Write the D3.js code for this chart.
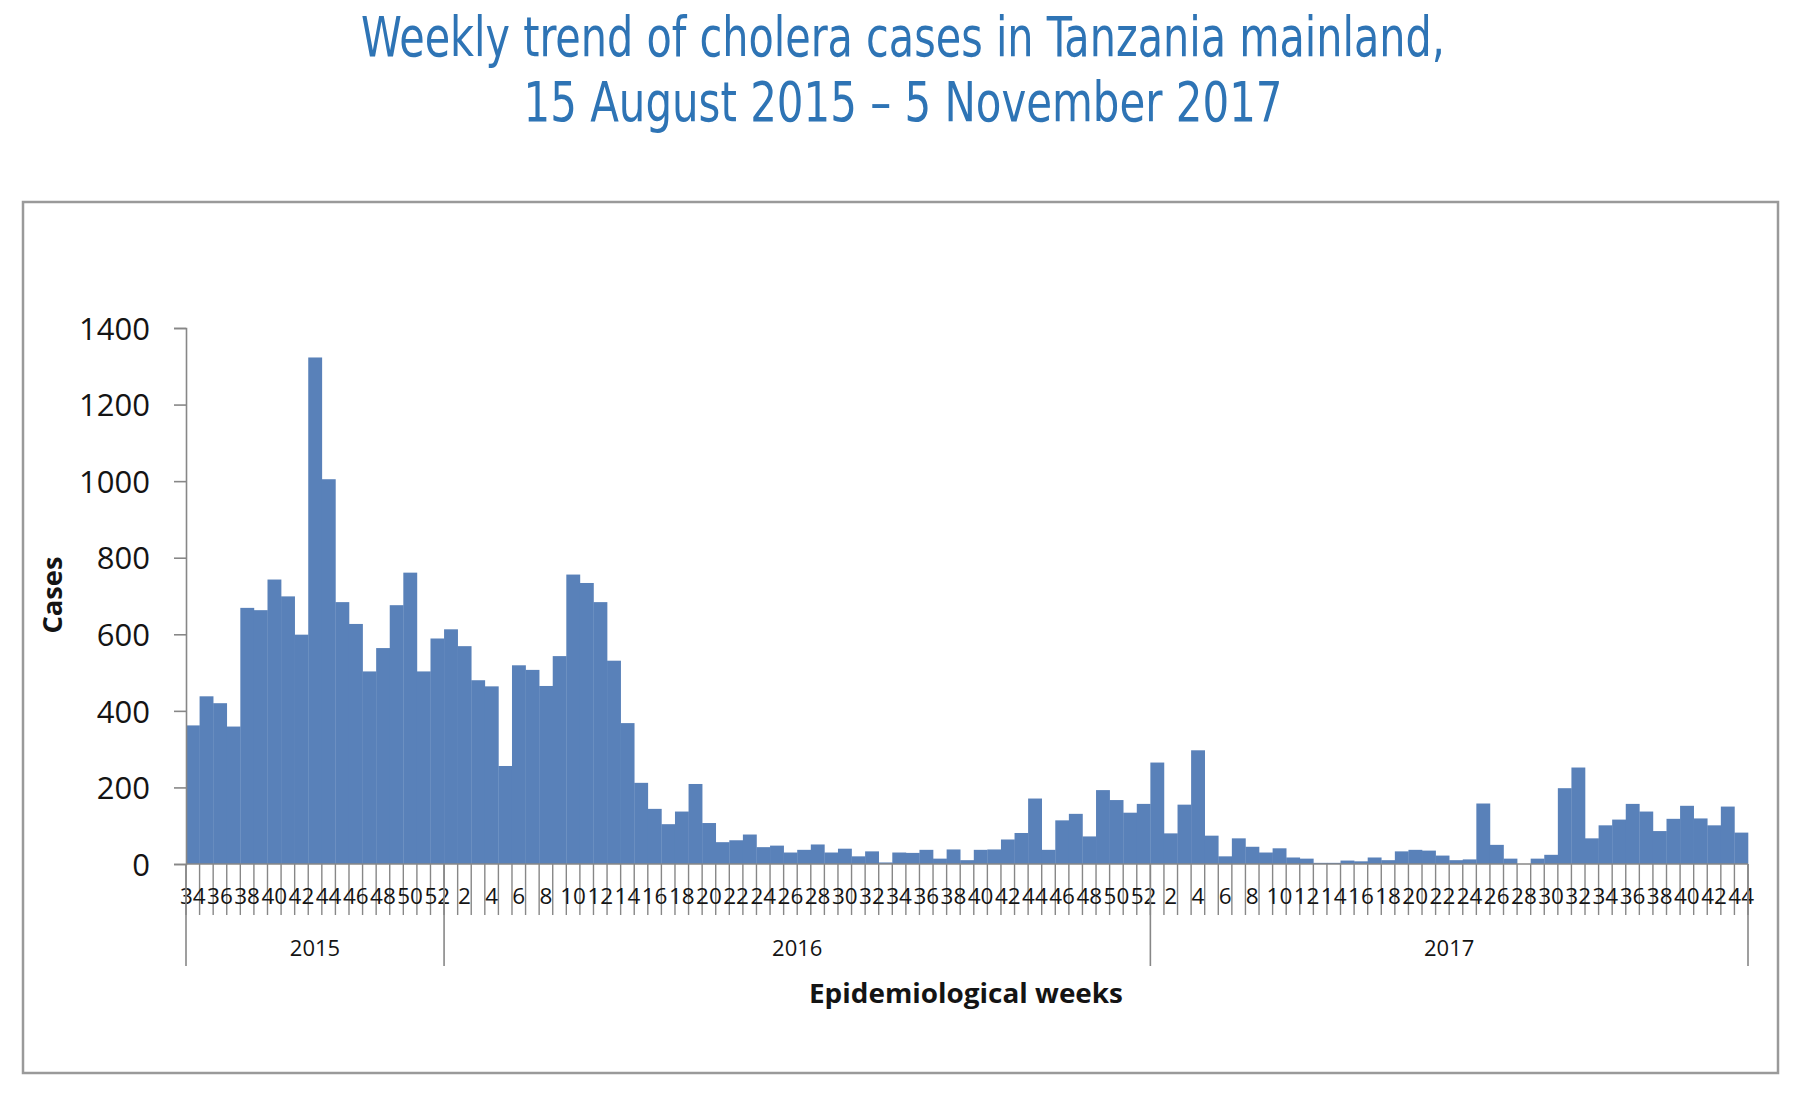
<!DOCTYPE html>
<html>
<head>
<meta charset="utf-8">
<script src="https://cdn.jsdelivr.net/npm/d3@7"></script>
<style>
	body { margin: 0; background: #fff; }
	.mono { font-family: 'Open Sans', 'Liberation Sans', sans-serif; fill: #141414; }
	.title { font-family: 'Liberation Sans Narrow', 'DejaVu Sans Condensed', 'Liberation Sans', sans-serif; fill: #2e74b5; }
</style>
</head>
<body>
<div id="chart"></div>
<script>
var years = ['2015', '2016', '2017'],
	firstWeek = [34, 1, 1],
	cases2015 = [362, 438, 420, 359, 669, 663, 743, 699, 599, 1323, 1005, 684, 627, 503, 564, 676, 761, 503, 589],
	cases2016 = [613, 569, 480, 464, 256, 519, 507, 465, 543, 756, 734, 684, 531, 368, 212, 144, 104, 137, 209, 107,
		57, 62, 77, 44, 48, 30, 37, 51, 30, 40, 20, 33, 4, 30, 29, 37, 14, 38, 10, 37,
		38, 64, 81, 171, 37, 114, 131, 72, 193, 167, 134, 157],
	cases2017 = [265, 80, 155, 297, 74, 20, 67, 45, 30, 41, 17, 14, 3, 3, 9, 7, 17, 10, 33, 37,
		35, 22, 10, 12, 158, 50, 14, 0, 14, 24, 198, 252, 67, 101, 116, 157, 137, 86, 118, 152,
		119, 101, 150, 82],
	yTicks = [0, 200, 400, 600, 800, 1000, 1200, 1400],
	titleLines = ['Weekly trend of cholera cases in Tanzania mainland,', '15 August 2015 \u2013 5 November 2017'],
	yTitle = 'Cases',
	xTitle = 'Epidemiological weeks';

var W = 1806, H = 1096,
	plot = { left: 186, right: 1748, top: 328, bottom: 864 };

// flatten the three years into one category list
var seriesByYear = [cases2015, cases2016, cases2017];
var data = [];
seriesByYear.forEach(function (vals, y) {
	vals.forEach(function (v, i) {
		data.push({ year: years[y], week: firstWeek[y] + i, cases: v });
	});
});

var svg = d3.select('#chart').append('svg')
	.attr('width', W)
	.attr('height', H);

svg.append('rect')
	.attr('width', W).attr('height', H)
	.style('fill', '#fff');

// title
svg.selectAll('.title')
	.data(titleLines)
	.enter().append('text')
	.attr('class', 'title')
	.attr('x', W / 2)
	.attr('y', function (d, i) { return 56 + i * 64.5; })
	.attr('text-anchor', 'middle')
	.style('font-size', '55px')
	.attr('textLength', function (d, i) { return i == 0 ? 1084 : 759; })
	.attr('lengthAdjust', 'spacingAndGlyphs')
	.text(function (d) { return d; });

// chart frame
svg.append('rect')
	.attr('x', 23).attr('y', 202)
	.attr('width', 1755).attr('height', 871)
	.style('fill', 'none')
	.style('stroke', '#9a9a9a')
	.style('stroke-width', 2.5);

var x = d3.scaleBand()
	.domain(d3.range(data.length))
	.range([plot.left, plot.right])
	.padding(0);

var y = d3.scaleLinear()
	.domain([0, 1400])
	.range([plot.bottom, plot.top]);

svg.selectAll('.bar')
	.data(data)
	.enter().append('rect')
	.attr('class', 'bar')
	.attr('x', function (d, i) { return x(i); })
	.attr('y', function (d) { return y(d.cases); })
	.attr('width', x.bandwidth() + 0.3)
	.attr('height', function (d) { return y(0) - y(d.cases); })
	.style('fill', '#5981b9');

// y axis
var yAxis = svg.append('g')
	.attr('transform', 'translate(' + plot.left + ',0)')
	.call(d3.axisLeft(y).tickValues(yTicks).tickSize(12).tickPadding(24).tickFormat(d3.format('d')));
yAxis.selectAll('path, line').style('stroke', '#878787').style('stroke-width', 1.6);
yAxis.selectAll('text')
	.attr('class', 'mono')
	.style('font-size', '31px')
	.attr('dy', '0.36em');

svg.append('text')
	.attr('class', 'mono')
	.attr('transform', 'translate(62,595) rotate(-90)')
	.attr('text-anchor', 'middle')
	.style('font-size', '26px')
	.style('font-weight', 'bold')
	.attr('textLength', 77)
	.attr('lengthAdjust', 'spacingAndGlyphs')
	.text(yTitle);

// x axis line, category ticks and labels
svg.append('line')
	.attr('x1', plot.left).attr('x2', plot.right)
	.attr('y1', plot.bottom).attr('y2', plot.bottom)
	.style('stroke', '#878787').style('stroke-width', 1.6);

svg.selectAll('.catTick')
	.data(d3.range(data.length + 1))
	.enter().append('line')
	.attr('class', 'catTick')
	.attr('x1', function (d) { return plot.left + d * x.step(); })
	.attr('x2', function (d) { return plot.left + d * x.step(); })
	.attr('y1', plot.bottom)
	.attr('y2', 915)
	.style('stroke', '#878787')
	.style('stroke-width', 1.4);

svg.selectAll('.weekLabel')
	.data(data.filter(function (d, i) { return i % 2 == 0; }))
	.enter().append('text')
	.attr('class', 'weekLabel mono')
	.attr('x', function (d) { return x(data.indexOf(d)) + x.bandwidth() / 2; })
	.attr('y', 904)
	.attr('text-anchor', 'middle')
	.style('font-size', '22.5px')
	.text(function (d) { return d.week; });

// year groups
var groups = years.map(function (yr) {
	var idx = data.map(function (d, i) { return d.year == yr ? i : -1; }).filter(function (i) { return i >= 0; });
	return { year: yr, start: idx[0], end: idx[idx.length - 1] + 1 };
});

var bounds = [groups[0].start].concat(groups.map(function (g) { return g.end; }));
svg.selectAll('.yearSep')
	.data(bounds)
	.enter().append('line')
	.attr('class', 'yearSep')
	.attr('x1', function (d) { return plot.left + d * x.step(); })
	.attr('x2', function (d) { return plot.left + d * x.step(); })
	.attr('y1', plot.bottom)
	.attr('y2', 966)
	.style('stroke', '#878787')
	.style('stroke-width', 1.6);

svg.selectAll('.yearLabel')
	.data(groups)
	.enter().append('text')
	.attr('class', 'yearLabel mono')
	.attr('x', function (g) { return plot.left + (g.start + g.end) / 2 * x.step(); })
	.attr('y', 956)
	.attr('text-anchor', 'middle')
	.style('font-size', '22px')
	.text(function (g) { return g.year; });

svg.append('text')
	.attr('class', 'mono')
	.attr('x', 966)
	.attr('y', 1003)
	.attr('text-anchor', 'middle')
	.style('font-size', '26px')
	.style('font-weight', 'bold')
	.attr('textLength', 314)
	.attr('lengthAdjust', 'spacingAndGlyphs')
	.text(xTitle);
</script>
</body>
</html>
